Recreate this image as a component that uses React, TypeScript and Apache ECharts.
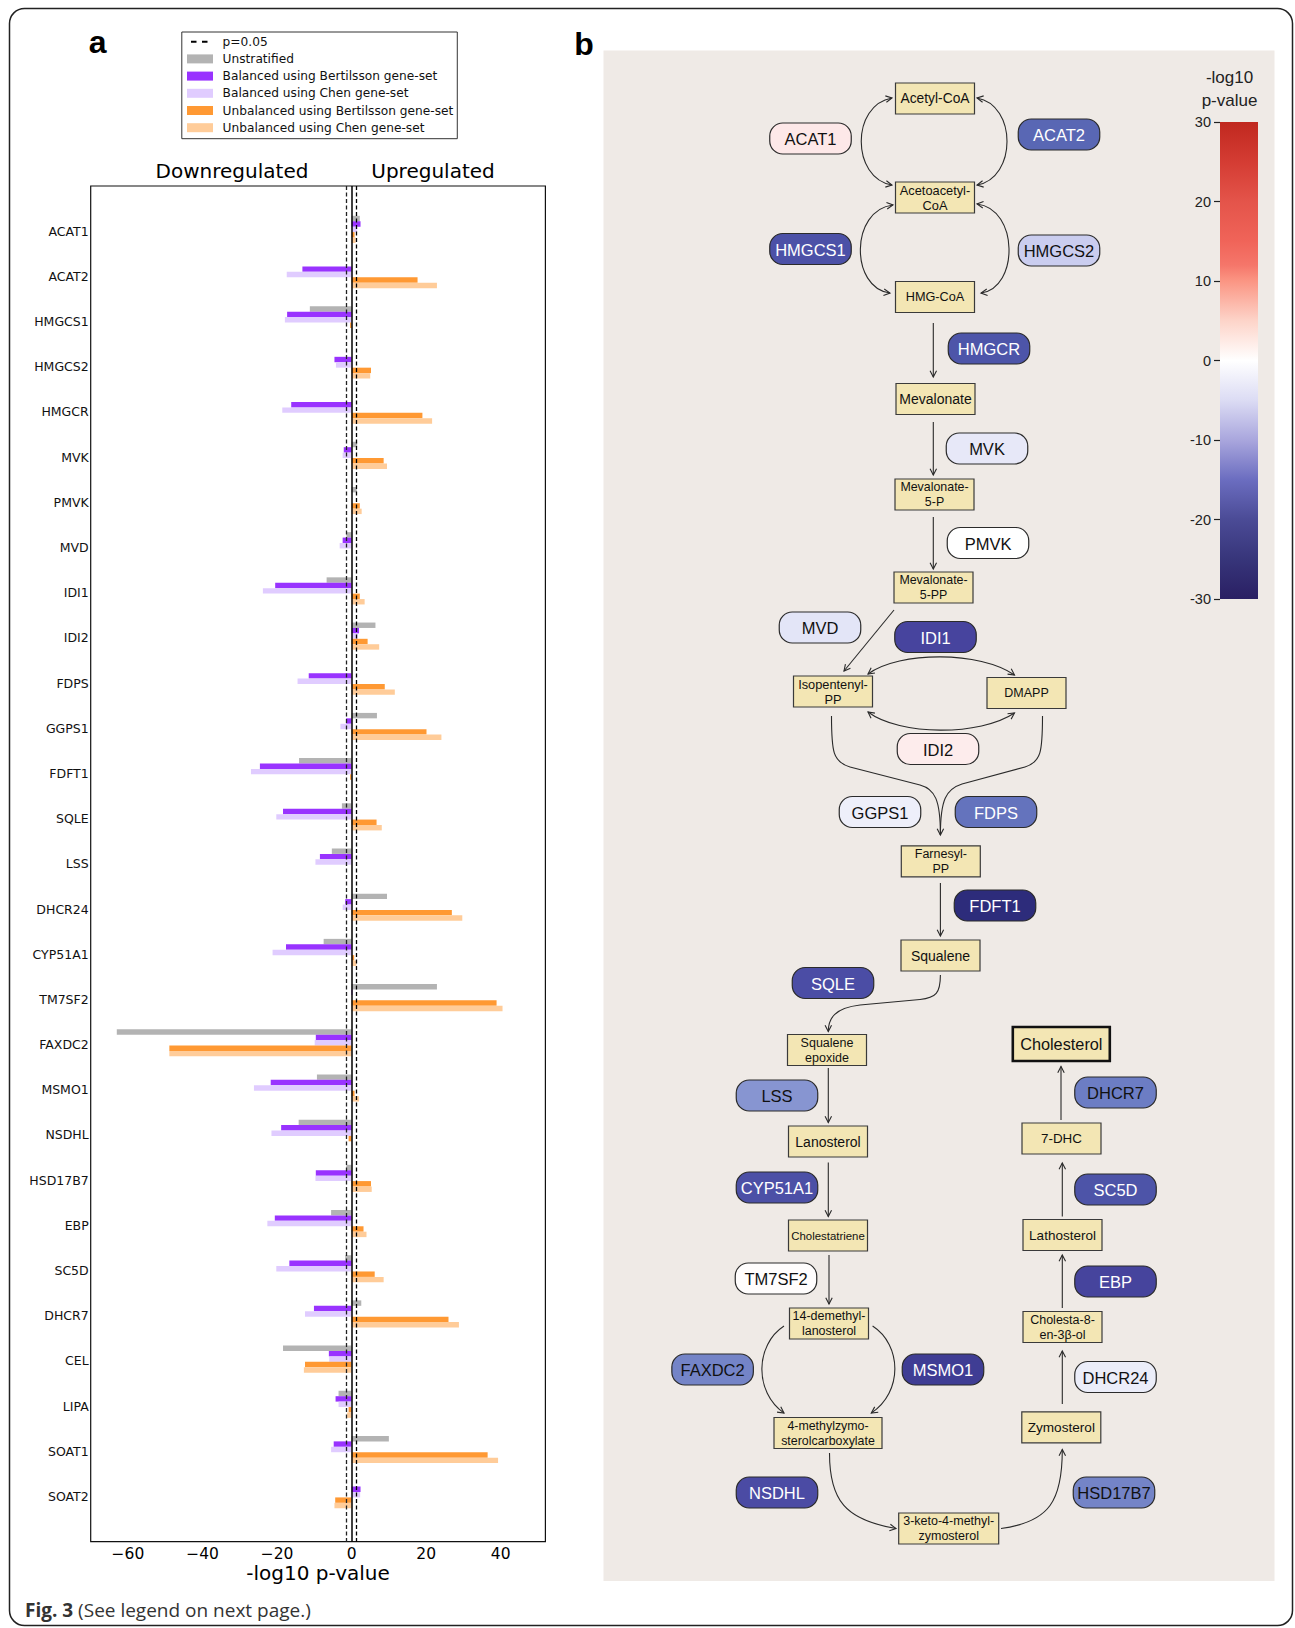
import React, { useEffect, useRef } from 'react';
import * as echarts from 'echarts';

// ---------------- DATA ----------------
const genes = ['ACAT1', 'ACAT2', 'HMGCS1', 'HMGCS2', 'HMGCR', 'MVK', 'PMVK', 'MVD', 'IDI1', 'IDI2', 'FDPS', 'GGPS1', 'FDFT1', 'SQLE', 'LSS', 'DHCR24', 'CYP51A1', 'TM7SF2', 'FAXDC2', 'MSMO1', 'NSDHL', 'HSD17B7', 'EBP', 'SC5D', 'DHCR7', 'CEL', 'LIPA', 'SOAT1', 'SOAT2'];

const unstratified = [2.2, 0, -11.2, 0, 0, 1.5, 1.4, -1.4, -6.7, 6.4, 0, 6.8, -14.1, -2.6, -5.3, 9.5, -7.5, 22.9, -63.0, -9.3, -14.2, -1.4, -5.5, -1.7, 2.6, -18.4, -3.5, 10.0, 0];
const balancedBertilsson = [2.4, -13.2, -17.3, -4.6, -16.2, -2.1, 0, -2.4, -20.5, 2.0, -11.5, -1.5, -24.6, -18.4, -8.5, -1.7, -17.6, 0.2, -9.6, -21.7, -18.9, -9.6, -20.6, -16.7, -10.1, -6.1, -4.3, -4.8, 2.4];
const balancedChen = [1.5, -17.4, -17.9, -4.2, -18.6, -2.4, 0, -3.2, -23.8, 1.7, -14.5, -3.0, -27.0, -20.2, -9.7, -2.4, -21.2, 0, -9.9, -26.2, -21.5, -9.7, -22.6, -20.2, -12.5, -6.0, -3.5, -5.5, 2.3];
const unbalancedBertilsson = [0.8, 17.7, -0.4, 5.2, 19.0, 8.6, 2.2, 0, 2.2, 4.3, 8.9, 20.1, -0.4, 6.7, 0, 26.9, 0.7, 38.9, -48.9, 0.8, -0.8, 5.2, 3.2, 6.2, 26.0, -12.5, -0.8, 36.5, -4.4];
const unbalancedChen = [1.1, 22.9, 0, 5.0, 21.6, 9.5, 2.7, 0, 3.5, 7.4, 11.6, 24.1, 0, 8.1, 0, 29.7, 1.3, 40.5, -48.9, 2.0, 0, 5.4, 4.0, 8.6, 28.8, -12.8, -1.2, 39.3, -4.6];

const seriesNames = ['Unstratified', 'Balanced using Bertilsson gene-set', 'Balanced using Chen gene-set', 'Unbalanced using Bertilsson gene-set', 'Unbalanced using Chen gene-set'];
const seriesValues = [unstratified, balancedBertilsson, balancedChen, unbalancedBertilsson, unbalancedChen];
const xTicks = [-60, -40, -20, 0, 20, 40];
const pThreshold = 1.301; // -log10(0.05)
const colorbarTicks = [-30, -20, -10, 0, 10, 20, 30];

// ---------------- STYLE / LAYOUT ----------------
const barColors = ['#b3b3b3', '#9933ff', '#e0ccff', '#ff9933', '#ffcc99'];
const barOffsets = [-0.28, -0.16, -0.04, 0.08, 0.2];
const barHalf = 0.06;

const pillColors = ['#1f1d5c', '#2b2a78', '#4a47a2', '#4e5aab', '#6d7ec4', '#c5c9ee', '#ffffff', '#fbd0d0', '#f7a39b', '#f4796e', '#ee5a52', '#d63c35', '#bd2523'];

const enzymeNodes = [
  { gene: 'ACAT1', x: 810.5, y: 138.5 },
  { gene: 'ACAT2', x: 1059, y: 134.5 },
  { gene: 'HMGCS1', x: 810.5, y: 249 },
  { gene: 'HMGCS2', x: 1059, y: 250.5 },
  { gene: 'HMGCR', x: 989, y: 348.5 },
  { gene: 'MVK', x: 987, y: 448.5 },
  { gene: 'PMVK', x: 988, y: 543 },
  { gene: 'MVD', x: 820, y: 627.5 },
  { gene: 'IDI1', x: 935.5, y: 637 },
  { gene: 'IDI2', x: 938, y: 749 },
  { gene: 'GGPS1', x: 880, y: 812 },
  { gene: 'FDPS', x: 996, y: 812 },
  { gene: 'FDFT1', x: 995, y: 905.5 },
  { gene: 'SQLE', x: 833, y: 983 },
  { gene: 'LSS', x: 777, y: 1095.5 },
  { gene: 'CYP51A1', x: 777, y: 1187.5 },
  { gene: 'DHCR7', x: 1115.5, y: 1092.5 },
  { gene: 'SC5D', x: 1115.5, y: 1189.5 },
  { gene: 'TM7SF2', x: 776, y: 1278.5 },
  { gene: 'EBP', x: 1115.5, y: 1281.5 },
  { gene: 'FAXDC2', x: 712.6, y: 1369.5 },
  { gene: 'MSMO1', x: 943, y: 1369.5 },
  { gene: 'DHCR24', x: 1115.5, y: 1377 },
  { gene: 'NSDHL', x: 777, y: 1492.5 },
  { gene: 'HSD17B7', x: 1114, y: 1492.5 },
];

const metabolites = [
  { lines: ['Acetyl-CoA'], x: 935, y: 98.5, w: 79, fs: 13.8 },
  { lines: ['Acetoacetyl-', 'CoA'], x: 935, y: 197.5, w: 79, fs: 12.8 },
  { lines: ['HMG-CoA'], x: 935, y: 297, w: 79, fs: 12.7 },
  { lines: ['Mevalonate'], x: 935.5, y: 399, w: 79, fs: 14 },
  { lines: ['Mevalonate-', '5-P'], x: 934.5, y: 494.5, w: 79, fs: 12.4 },
  { lines: ['Mevalonate-', '5-PP'], x: 933.5, y: 587.5, w: 79, fs: 12.4 },
  { lines: ['Isopentenyl-', 'PP'], x: 833, y: 691.5, w: 79, fs: 12.8 },
  { lines: ['DMAPP'], x: 1026.5, y: 693, w: 79, fs: 12.5 },
  { lines: ['Farnesyl-', 'PP'], x: 940.8, y: 861.3, w: 79, fs: 12.5 },
  { lines: ['Squalene'], x: 940.5, y: 955.5, w: 79, fs: 14 },
  { lines: ['Squalene', 'epoxide'], x: 827, y: 1050, w: 79, fs: 12.5 },
  { lines: ['Lanosterol'], x: 828, y: 1141.5, w: 79, fs: 14 },
  { lines: ['Cholestatriene'], x: 828, y: 1235.5, w: 79, fs: 11.4 },
  { lines: ['14-demethyl-', 'lanosterol'], x: 829, y: 1323.5, w: 79, fs: 12.5 },
  { lines: ['4-methylzymo-', 'sterolcarboxylate'], x: 828, y: 1433, w: 108, fs: 12.4 },
  { lines: ['3-keto-4-methyl-', 'zymosterol'], x: 948.7, y: 1528.5, w: 100, fs: 12.5 },
  { lines: ['Zymosterol'], x: 1061.3, y: 1427.3, w: 79, fs: 13.6 },
  { lines: ['Cholesta-8-', 'en-3β-ol'], x: 1062.5, y: 1327, w: 79, fs: 12.5 },
  { lines: ['Lathosterol'], x: 1062.5, y: 1235, w: 79, fs: 13.5 },
  { lines: ['7-DHC'], x: 1061.5, y: 1138.5, w: 79, fs: 13.4 },
  { lines: ['Cholesterol'], x: 1061.3, y: 1044, w: 97, h: 34, fs: 16.3, bold: true },
];

// [x1,y1, cx1,cy1, cx2,cy2, x2,y2, headStart, headEnd]
const curves = [
  [892, 98, 851, 105, 851, 178, 892, 185, 1, 1],
  [977, 98, 1017, 105, 1017, 178, 977, 185, 1, 1],
  [893, 205, 850, 210, 850, 288, 890, 293, 1, 1],
  [977, 204, 1019, 209, 1019, 288, 981, 293, 1, 1],
  [868, 674, 900, 651, 980, 651, 1014.5, 675, 1, 1],
  [868, 712, 900, 736, 980, 736, 1014.5, 713, 1, 1],
  [831.5, 716, 831.5, 752, 833, 762, 850, 767, 0, 0],
  [920, 785, 935, 789, 940.4, 800, 940.4, 835, 0, 1],
  [1042.5, 716, 1042.5, 752, 1041, 762, 1025, 767, 0, 0],
  [962, 784, 946, 789, 940.4, 800, 940.4, 835, 0, 0],
  [940.4, 975, 940.4, 993, 936, 998, 920, 999.5, 0, 0],
  [860, 1005, 835, 1008, 828.3, 1018, 828.3, 1031.5, 0, 1],
  [784, 1326, 755, 1345, 754, 1392, 784, 1413, 0, 1],
  [872.6, 1326, 902, 1345, 903, 1392, 871.3, 1413, 0, 1],
  [829.5, 1453, 829.5, 1500, 845, 1520, 896, 1528.5, 0, 1],
  [1001, 1528.5, 1050, 1522, 1062.3, 1500, 1062.3, 1449.5, 0, 1],
];
// [x1,y1,x2,y2, headEnd]
const straights = [
  [933.3, 323, 933.3, 377, 1],
  [933.3, 422, 933.3, 475, 1],
  [933.3, 517, 933.3, 569, 1],
  [894, 610, 844, 671, 1],
  [850, 767, 920, 785, 0],
  [1025, 767, 962, 784, 0],
  [940.4, 883, 940.4, 936, 1],
  [920, 999.5, 860, 1005, 0],
  [828.3, 1068, 828.3, 1122.5, 1],
  [828.3, 1162.5, 828.3, 1216.5, 1],
  [829, 1255, 829, 1304, 1],
  [1062.3, 1404, 1062.3, 1351, 1],
  [1062.3, 1308, 1062.3, 1255, 1],
  [1062.3, 1216.5, 1062.3, 1163, 1],
  [1061, 1120, 1061, 1066.5, 1],
];

const LINE = '#2a2a2a';
const DV = "'DejaVu Sans', sans-serif";
const LS = "'Liberation Sans', Arial, sans-serif";

function arrowHead(tx: number, ty: number, fx: number, fy: number) {
  const dx = tx - fx, dy = ty - fy;
  const L = Math.hypot(dx, dy) || 1;
  const ux = dx / L, uy = dy / L;
  const len = 7, a = 0.48;
  const c = Math.cos(a), s = Math.sin(a);
  const p1 = [tx - len * (ux * c - uy * s), ty - len * (uy * c + ux * s)];
  const p2 = [tx - len * (ux * c + uy * s), ty - len * (uy * c - ux * s)];
  return { type: 'polyline', z: 3, shape: { points: [p1, [tx, ty], p2] }, style: { stroke: LINE, fill: null, lineWidth: 1.1 } };
}

function buildGraphics() {
  const els: any[] = [];
  els.push({ type: 'rect', z: 0, shape: { x: 9.5, y: 8.5, width: 1283, height: 1617, r: 15 }, style: { fill: null, stroke: '#222', lineWidth: 1.5 } });
  els.push({ type: 'rect', z: 0, shape: { x: 603.5, y: 50.5, width: 671, height: 1530.5 }, style: { fill: '#efeae6' } });
  els.push({ type: 'text', z: 5, x: 97.6, y: 41.5, style: { text: 'a', fontFamily: LS, fontWeight: 'bold', fontSize: 32, fill: '#000', align: 'center', verticalAlign: 'middle' } });
  els.push({ type: 'text', z: 5, x: 584, y: 43.8, style: { text: 'b', fontFamily: LS, fontWeight: 'bold', fontSize: 32, fill: '#000', align: 'center', verticalAlign: 'middle' } });
  els.push({ type: 'text', z: 5, x: 232, y: 171, style: { text: 'Downregulated', fontFamily: DV, fontSize: 20, fill: '#000', align: 'center', verticalAlign: 'middle' } });
  els.push({ type: 'text', z: 5, x: 433, y: 171, style: { text: 'Upregulated', fontFamily: DV, fontSize: 20, fill: '#000', align: 'center', verticalAlign: 'middle' } });
  els.push({
    type: 'text', z: 5, x: 25, y: 1609.6,
    style: {
      text: '{b|Fig. 3} (See legend on next page.)', fontFamily: "'Open Sans', sans-serif", fontSize: 19, fill: '#333', verticalAlign: 'middle',
      rich: { b: { fontFamily: "'Open Sans', sans-serif", fontSize: 19, fontWeight: 'bold', fill: '#333' } },
    },
  });
  els.push({ type: 'text', z: 5, x: 1229.5, y: 77.5, style: { text: '-log10', fontFamily: LS, fontSize: 17, fill: '#222', align: 'center', verticalAlign: 'middle' } });
  els.push({ type: 'text', z: 5, x: 1229.5, y: 100.5, style: { text: 'p-value', fontFamily: LS, fontSize: 17, fill: '#222', align: 'center', verticalAlign: 'middle' } });
  els.push({
    type: 'rect', z: 1, shape: { x: 1220, y: 122, width: 38, height: 477 },
    style: {
      fill: new echarts.graphic.LinearGradient(0, 0, 0, 1, [
        { offset: 0, color: '#c0281f' },
        { offset: 0.083, color: '#d43c33' },
        { offset: 0.167, color: '#e4544a' },
        { offset: 0.25, color: '#f06459' },
        { offset: 0.3, color: '#f5766a' },
        { offset: 0.333, color: '#fb9583' },
        { offset: 0.417, color: '#fdd4c9' },
        { offset: 0.5, color: '#ffffff' },
        { offset: 0.583, color: '#dcdcf4' },
        { offset: 0.667, color: '#a9a6dd' },
        { offset: 0.75, color: '#6b6dc0' },
        { offset: 0.833, color: '#4b4b96' },
        { offset: 0.917, color: '#37357a' },
        { offset: 1, color: '#2a1f63' },
      ]),
    },
  });
  curves.forEach((c) => {
    const [x1, y1, cx1, cy1, cx2, cy2, x2, y2, hs, he] = c;
    els.push({ type: 'bezierCurve', z: 3, shape: { x1, y1, cpx1: cx1, cpy1: cy1, cpx2: cx2, cpy2: cy2, x2, y2 }, style: { stroke: LINE, fill: null, lineWidth: 1.1 } });
    if (hs) els.push(arrowHead(x1, y1, cx1, cy1));
    if (he) els.push(arrowHead(x2, y2, cx2, cy2));
  });
  straights.forEach((s) => {
    const [x1, y1, x2, y2, he] = s;
    els.push({ type: 'line', z: 3, shape: { x1, y1, x2, y2 }, style: { stroke: LINE, lineWidth: 1.1 } });
    if (he) els.push(arrowHead(x2, y2, x1, y1));
  });
  metabolites.forEach((m: any) => {
    const h = m.h || 31;
    els.push({
      type: 'rect', z: 4, shape: { x: m.x - m.w / 2, y: m.y - h / 2, width: m.w, height: h },
      style: { fill: '#f3e6b4', stroke: m.bold ? '#111' : '#3a3a3a', lineWidth: m.bold ? 2.6 : 1.2 },
    });
    els.push({
      type: 'text', z: 5, x: m.x, y: m.y,
      style: { text: m.lines.join('\n'), fontFamily: LS, fontSize: m.fs, lineHeight: 15, fill: '#111', align: 'center', verticalAlign: 'middle' },
    });
  });
  return els;
}

export default function App() {
  const ref = useRef<HTMLDivElement>(null);
  useEffect(() => {
    if (!ref.current) return;
    const chart = echarts.init(ref.current, null, { renderer: 'svg' });

    const barSeries = seriesValues.map((vals, k) => ({
      type: 'custom',
      name: seriesNames[k],
      xAxisIndex: 0,
      yAxisIndex: 0,
      itemStyle: { color: barColors[k] },
      z: 2,
      data: genes.map((_, i) => [vals[i], i]),
      encode: { x: 0, y: 1 },
      renderItem: (params: any, api: any) => {
        const v = api.value(0);
        const idx = api.value(1);
        const p1 = api.coord([0, idx + barOffsets[k] - barHalf]);
        const p2 = api.coord([v, idx + barOffsets[k] + barHalf]);
        return {
          type: 'rect',
          shape: { x: Math.min(p1[0], p2[0]), y: Math.min(p1[1], p2[1]), width: Math.abs(p2[0] - p1[0]), height: Math.abs(p2[1] - p1[1]) },
          style: { fill: barColors[k] },
        };
      },
    }));

    const enzymeData = enzymeNodes.map((n) => [n.x, n.y, balancedBertilsson[genes.indexOf(n.gene)]]);

    const option: any = {
      animation: false,
      backgroundColor: '#ffffff',
      grid: [
        { left: 90.7, top: 186, width: 454.7, height: 1355.7, show: true, borderColor: '#111', borderWidth: 1.2, backgroundColor: '#fff' },
        { left: 0, top: 0, width: 1295, height: 1628, show: false },
        { left: 1220, top: 122, width: 38, height: 477, show: false },
      ],
      xAxis: [
        {
          type: 'value', gridIndex: 0, min: -70, max: 52,
          axisLine: { show: false }, axisTick: { show: false }, splitLine: { show: false },
          axisLabel: {
            customValues: xTicks, margin: 4, fontFamily: DV, fontSize: 15.5, color: '#000',
            formatter: (v: number) => (v < 0 ? '\u2212' + Math.abs(v) : String(v)),
          },
          name: '-log10 p-value', nameLocation: 'middle', nameGap: 21, nameMoveOverlap: false,
          nameTextStyle: { fontFamily: DV, fontSize: 20, color: '#000' },
        },
        { type: 'value', gridIndex: 1, min: 0, max: 1295, show: false },
        { type: 'value', gridIndex: 2, min: 0, max: 1, show: false },
      ],
      yAxis: [
        {
          type: 'value', gridIndex: 0, min: -1, max: 29, inverse: true,
          axisLine: { show: false }, axisTick: { show: false }, splitLine: { show: false },
          axisLabel: {
            customValues: genes.map((_, i) => i), margin: 2, fontFamily: DV, fontSize: 12.5, color: '#111',
            formatter: (v: number) => genes[Math.round(v)] || '',
          },
        },
        { type: 'value', gridIndex: 1, min: 0, max: 1628, inverse: true, show: false },
        {
          type: 'value', gridIndex: 2, min: -30, max: 30, interval: 10,
          axisLine: { show: false }, splitLine: { show: false },
          axisTick: { show: true, length: 6, lineStyle: { color: '#222', width: 1.2 } },
          axisLabel: { margin: 9, fontFamily: LS, fontSize: 14.5, color: '#222', customValues: colorbarTicks },
        },
      ],
      legend: {
        orient: 'vertical', left: 181.8, top: 32, selectedMode: false,
        itemWidth: 26, itemHeight: 9, itemGap: 3.2,
        backgroundColor: '#fff', borderColor: '#333', borderWidth: 1, borderRadius: 0,
        padding: [2.7, 4, 4, 4.2],
        textStyle: { fontFamily: DV, fontSize: 12.2, color: '#111', lineHeight: 14, padding: [0, 0, 0, 4.6] },
        data: [
          { name: 'p=0.05', itemStyle: { color: 'rgba(0,0,0,0)', borderWidth: 0, opacity: 0 } },
          ...seriesNames.map((n) => ({ name: n, icon: 'rect' })),
        ],
      },
      visualMap: {
        type: 'continuous', show: false, min: -30, max: 30, dimension: 2, seriesIndex: 6,
        inRange: { color: pillColors },
      },
      graphic: { elements: buildGraphics() },
      series: [
        ...barSeries,
        {
          type: 'line', name: 'p=0.05', xAxisIndex: 0, yAxisIndex: 0, z: 5,
          data: [[0, -1]], showSymbol: false, symbol: 'none',
          lineStyle: { type: [5.5, 5.5], dashOffset: 7, color: '#000', width: 1.3 },
          itemStyle: { color: '#000' },
          markLine: {
            silent: true, symbol: ['none', 'none'], label: { show: false },
            data: [
              { xAxis: 0, lineStyle: { type: 'solid', color: '#000', width: 1.5 } },
              { xAxis: -pThreshold, lineStyle: { type: [4, 2.5], color: '#222', width: 1.3 } },
              { xAxis: pThreshold, lineStyle: { type: [4, 2.5], color: '#000', width: 1.3 } },
            ],
          },
        },
        {
          type: 'custom', name: 'enzymes', xAxisIndex: 1, yAxisIndex: 1, z: 6,
          data: enzymeData,
          renderItem: (params: any, api: any) => {
            const c = api.coord([api.value(0), api.value(1)]);
            const v = api.value(2);
            const w = 81.5, h = 31;
            return {
              type: 'group',
              children: [
                { type: 'rect', shape: { x: c[0] - w / 2, y: c[1] - h / 2, width: w, height: h, r: 13 }, style: { fill: api.visual('color'), stroke: '#2b2b2b', lineWidth: 1.2 } },
                { type: 'text', x: c[0], y: c[1] + 0.5, style: { text: enzymeNodes[params.dataIndex].gene, fontFamily: LS, fontSize: 16.5, fill: v < -11 ? '#ffffff' : '#111111', align: 'center', verticalAlign: 'middle' } },
              ],
            };
          },
        },
      ],
    };
    chart.setOption(option);
    return () => chart.dispose();
  }, []);
  return <div ref={ref} style={{ position: 'absolute', left: 0, top: 0, width: '1295px', height: '1628px' }} />;
}
